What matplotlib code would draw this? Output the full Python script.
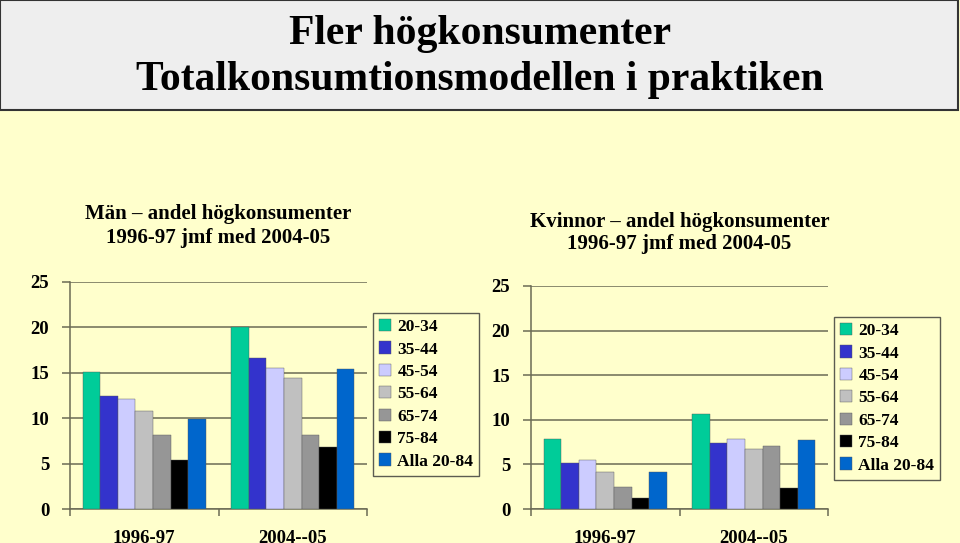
import numpy as np
import matplotlib
matplotlib.use("Agg")
import matplotlib.pyplot as plt
from matplotlib.patches import Rectangle

plt.rcParams['font.family'] = ['Liberation Serif', 'DejaVu Serif']
plt.rcParams['font.weight'] = 'bold'

# data
perioder = ['1996-97', '2004--05']
aldrar = ['20-34', '35-44', '45-54', '55-64', '65-74', '75-84', 'Alla 20-84']
farger = ['#00CC99', '#3333CC', '#CCCCFF', '#C0C0C0', '#969696', '#000000', '#0066CC']

man_1996 = [15.1, 12.4, 12.1, 10.8, 8.2, 5.4, 9.9]
man_2004 = [20.0, 16.6, 15.5, 14.4, 8.2, 6.8, 15.4]
kvinnor_1996 = [7.8, 5.2, 5.5, 4.2, 2.5, 1.2, 4.2]
kvinnor_2004 = [10.7, 7.4, 7.8, 6.7, 7.1, 2.4, 7.7]

bakgrund = '#FFFFCC'
linjefarg = '#6B6B55'

fig = plt.figure(figsize=(9.6, 5.43), dpi=100)
fig.patch.set_facecolor(bakgrund)

# rubrikruta
fig.patches.append(Rectangle((0.0, 1 - 110 / 543), 958 / 960, 110 / 543, transform=fig.transFigure,
                             facecolor='#EEEEEE', edgecolor='#333333', linewidth=1.5))
fig.text(0.5, 1 - 34 / 543, 'Fler högkonsumenter', ha='center', va='center', fontsize=30, fontweight='bold')
fig.text(0.5, 1 - 80 / 543, 'Totalkonsumtionsmodellen i praktiken', ha='center', va='center',
         fontsize=30, fontweight='bold')


def rita(rect, v1, v2, rubrik, rubrik_y, legend_pos):
    ax = fig.add_axes(rect)
    ax.set_facecolor(bakgrund)
    x = np.arange(len(perioder))
    b = 0.118
    for i, namn in enumerate(aldrar):
        varden = [v1[i], v2[i]]
        ax.bar(x + (i - 3) * b, varden, width=b, color=farger[i], edgecolor='#555555',
               linewidth=0.3, label=namn, zorder=3)
    ax.set_xlim(-0.5, 1.5)
    ax.set_ylim(0, 25)
    ax.set_yticks([0, 5, 10, 15, 20, 25])
    ax.yaxis.grid(True, color=linjefarg, linewidth=1.1, zorder=0)
    ax.set_xticks([-0.5, 0.5, 1.5], minor=False)
    ax.set_xticklabels([])
    ax.set_xticks(x, minor=True)
    ax.set_xticklabels(perioder, minor=True, fontsize=13.5, fontweight='bold')
    ax.tick_params(axis='x', which='minor', length=0, pad=15)
    ax.tick_params(axis='x', which='major', length=5, color=linjefarg, width=1.1, direction='out')
    ax.tick_params(axis='y', length=6, color=linjefarg, width=1.1, pad=9, labelsize=13.5)
    for t in ax.get_yticklabels():
        t.set_fontweight('bold')
    for s in ['top', 'right']:
        ax.spines[s].set_visible(False)
    for s in ['left', 'bottom']:
        ax.spines[s].set_color(linjefarg)
        ax.spines[s].set_linewidth(1.1)
    fig.text(rect[0] + rect[2] / 2, rubrik_y, rubrik, ha='center', va='center', fontsize=15,
             fontweight='bold', linespacing=1.2)
    leg = ax.legend(loc='upper left', bbox_to_anchor=legend_pos, bbox_transform=fig.transFigure,
                    fontsize=12.5, frameon=True, fancybox=False, handlelength=0.7, handleheight=0.7,
                    handletextpad=0.35, labelspacing=0.36, borderpad=0.35, borderaxespad=0)
    leg.get_frame().set_facecolor(bakgrund)
    leg.get_frame().set_edgecolor('#333333')
    leg.get_frame().set_linewidth(1.0)
    for t in leg.get_texts():
        t.set_fontweight('bold')
    return ax


rita([70 / 960, 34 / 543, 297 / 960, 227 / 543], man_1996, man_2004,
     'Män – andel högkonsumenter\n1996-97 jmf med 2004-05', 1 - 226 / 543, (373 / 960, 1 - 313 / 543))
rita([531 / 960, 34 / 543, 297 / 960, 223 / 543], kvinnor_1996, kvinnor_2004,
     'Kvinnor – andel högkonsumenter\n1996-97 jmf med 2004-05', 1 - 233 / 543, (834 / 960, 1 - 317 / 543))

fig.savefig('out.png', dpi=100, facecolor=fig.get_facecolor())
